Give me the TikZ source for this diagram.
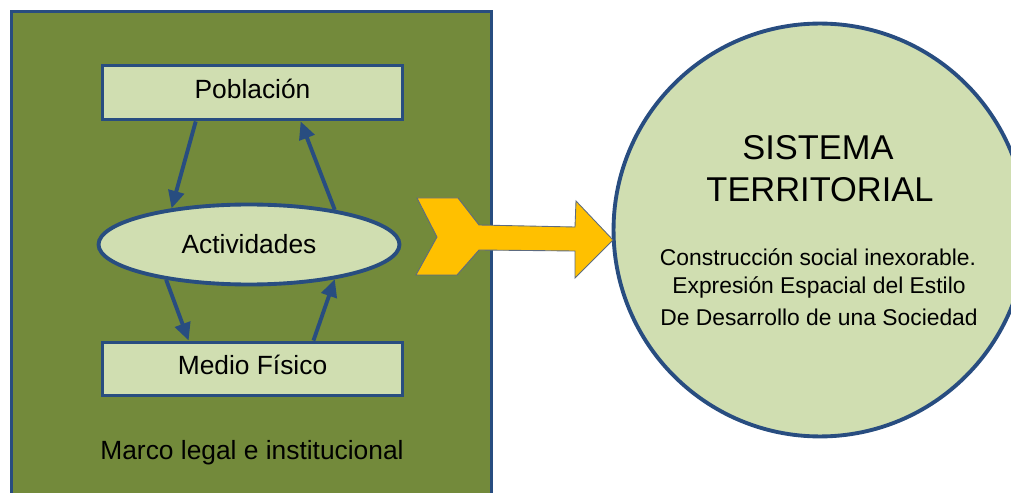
\documentclass[tikz,border=0pt]{standalone}
\usepackage{fontspec}
\setmainfont{Liberation Sans}
\usetikzlibrary{shapes.geometric, arrows.meta}

\definecolor{verdeoscuro}{HTML}{738A3B}
\definecolor{verdeclaro}{HTML}{D0DEB1}
\definecolor{azulborde}{HTML}{284D80}
\definecolor{amarillo}{HTML}{FFC000}

\begin{document}
\begin{tikzpicture}[x = 0.02cm, y = -0.02cm,
    caja/.style = {draw = azulborde, line width = 2.2pt, fill = verdeclaro, minimum width = 6cm,
      text height = 1.5ex, text depth = .25ex, font = \fontsize{15}{18}\selectfont},
    flecha/.style = {draw = azulborde, line width = 2.2pt, -{Triangle[length = 10pt, width = 9pt]}},
    titulo/.style = {anchor = base, font = \fontsize{19.6}{23}\selectfont},
    lema/.style = {anchor = base, font = \fontsize{13}{16}\selectfont}]
    \useasboundingbox (0, 0) rectangle (1011, 493);
    \clip (0, 0) rectangle (1011, 493);

    \filldraw[fill = verdeoscuro, draw = azulborde, line width = 2.2pt] (11.5, 11.5) rectangle (491.5, 510);

    \node[caja, minimum height = 1.08cm] (pob) at (252.5, 92.5) {Población};
    \node[caja, minimum height = 1.06cm] (med) at (252.5, 369) {Medio Físico};
    \node[ellipse, draw = azulborde, line width = 2.2pt, fill = verdeclaro, minimum width = 6.02cm,
      minimum height = 1.6cm, font = \fontsize{15}{18}\selectfont] (act) at (249, 244.5) {Actividades};
    \node[anchor = base, font = \fontsize{15}{18}\selectfont] (marco) at (252, 459) {Marco legal e institucional};

    \draw[flecha] (pob.207) -- (act.155);
    \draw[flecha] (act.22) -- (pob.329);
    \draw[flecha] (act.203) -- (med.156);
    \draw[flecha] (med.25) -- (act.338);

    \node[circle, draw = azulborde, line width = 2.2pt, fill = verdeclaro, minimum size = 8.26cm] (sis) at (820, 230) {};

    \filldraw[fill = amarillo, draw = gray!60!azulborde, line width = 0.5pt]
      (417, 198) -- (458, 198) -- (479, 225) -- (575, 227) -- (576, 201) -- (613, 240)
      -- (575, 278) -- (575, 251) -- (479, 250) -- (457, 275) -- (416, 275) -- (437, 237) -- cycle;

    \node[titulo] (sis1) at (818, 160) {SISTEMA};
    \node[titulo] (sis2) at (820, 201.7) {TERRITORIAL};
    \node[lema] (lin1) at (818, 265.5) {Construcción social inexorable.};
    \node[lema] (lin2) at (819, 293.3) {Expresión Espacial del Estilo};
    \node[lema] (lin3) at (819, 325.7) {De Desarrollo de una Sociedad};
  \end{tikzpicture}
\end{document}
